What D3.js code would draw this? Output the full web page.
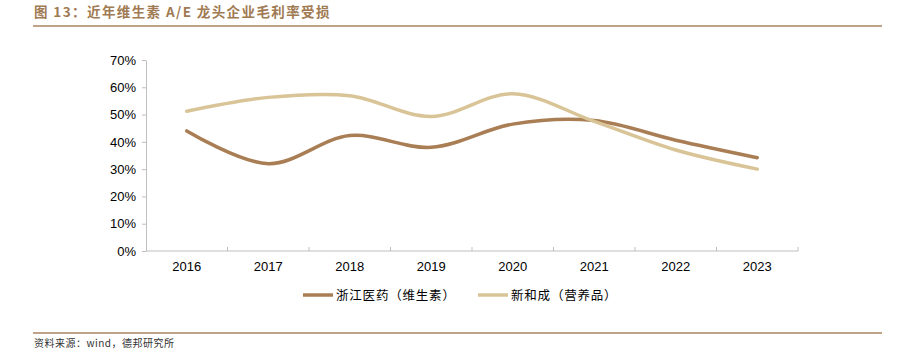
<!DOCTYPE html>
<html>
<head>
<meta charset="utf-8">
<script src="https://cdn.jsdelivr.net/npm/d3@7"></script>
<style>
  body { margin: 0; background: #fff; }
  text { font-family: "Liberation Sans", Arial, "Noto Sans CJK SC", sans-serif; }
  .cjk { font-family: "Noto Sans CJK SC", sans-serif; }
</style>
</head>
<body>
<div id="chart"></div>
<script>
// data
const years = ["2016", "2017", "2018", "2019", "2020", "2021", "2022", "2023"];
const zjyy = [44.0, 32.0, 42.3, 38.0, 46.5, 47.8, 40.6, 34.2];   // 浙江医药（维生素）
const xhc  = [51.2, 56.3, 56.9, 49.3, 57.6, 47.5, 37.0, 30.0];   // 新和成（营养品）
const yTicks = [0, 10, 20, 30, 40, 50, 60, 70];

const series = [
    {name: "浙江医药（维生素）", values: zjyy, color: "#A97E55"},
    {name: "新和成（营养品）", values: xhc, color: "#D9C497"}
];

const width = 902, height = 352;
const margin = {top: 60, right: 104, bottom: 101, left: 146};

const svg = d3.select("#chart").append("svg")
    .attr("width", width)
    .attr("height", height);

// title + rules
svg.append("text")
    .attr("class", "cjk")
    .attr("x", 34)
    .attr("y", 17)
    .attr("fill", "#A07A52")
    .attr("font-size", 13.5)
    .attr("font-weight", "bold")
    .attr("letter-spacing", 1.4)
    .text("图 13：近年维生素 A/E 龙头企业毛利率受损");

svg.append("line")
    .attr("x1", 33).attr("x2", 882)
    .attr("y1", 26).attr("y2", 26)
    .attr("stroke", "#A88560").attr("stroke-width", 1.5);

svg.append("line")
    .attr("x1", 33).attr("x2", 882)
    .attr("y1", 333).attr("y2", 333)
    .attr("stroke", "#A88560").attr("stroke-width", 1.5);

svg.append("text")
    .attr("class", "cjk")
    .attr("x", 34)
    .attr("y", 347)
    .attr("fill", "#333")
    .attr("font-size", 10)
    .attr("letter-spacing", 0.5)
    .text("资料来源：wind，德邦研究所");

const x = d3.scaleBand()
    .domain(years)
    .range([margin.left, width - margin.right]);

const y = d3.scaleLinear()
    .domain([0, 70])
    .range([height - margin.bottom, margin.top]);

// y axis
const yAxis = svg.append("g")
    .attr("transform", `translate(${margin.left},0)`)
    .call(d3.axisLeft(y).tickValues(yTicks).tickFormat(d => d + "%").tickSize(4).tickSizeOuter(0));
yAxis.select(".domain").attr("stroke", "#bfbfbf");
yAxis.selectAll(".tick line").attr("stroke", "#bfbfbf");
yAxis.selectAll(".tick text")
    .attr("font-size", 13)
    .attr("fill", "#000")
    .attr("x", -10)
    .attr("font-family", "Liberation Sans, Arial, sans-serif");

// x axis: ticks at band boundaries pointing up
const xg = svg.append("g")
    .attr("transform", `translate(0,${height - margin.bottom})`);
xg.append("line")
    .attr("x1", margin.left).attr("x2", width - margin.right)
    .attr("stroke", "#bfbfbf");
const bounds = years.map(d => x(d)).concat([x(years[years.length - 1]) + x.bandwidth()]);
xg.selectAll(".tk")
    .data(bounds.slice(1))
    .join("line")
    .attr("x1", d => d).attr("x2", d => d)
    .attr("y1", 0).attr("y2", -4)
    .attr("stroke", "#bfbfbf");
xg.selectAll(".lbl")
    .data(years)
    .join("text")
    .attr("x", d => x(d) + x.bandwidth() / 2)
    .attr("y", 20)
    .attr("text-anchor", "middle")
    .attr("font-size", 13)
    .attr("fill", "#000")
    .text(d => d);

// lines
const line = d3.line()
    .x((d, i) => x(years[i]) + x.bandwidth() / 2)
    .y(d => y(d))
    .curve(d3.curveCatmullRom.alpha(0.5));

svg.append("g")
    .selectAll("path")
    .data(series)
    .join("path")
    .attr("d", d => line(d.values))
    .attr("fill", "none")
    .attr("stroke", d => d.color)
    .attr("stroke-width", 3.5)
    .attr("stroke-linecap", "round");

// legend
const legendX = [303, 478];
const leg = svg.append("g")
    .selectAll("g")
    .data(series)
    .join("g")
    .attr("transform", (d, i) => `translate(${legendX[i]},295)`);
leg.append("line")
    .attr("x1", 0).attr("x2", 30)
    .attr("stroke", d => d.color)
    .attr("stroke-width", 3.5);
leg.append("text")
    .attr("class", "cjk")
    .attr("x", 33)
    .attr("y", 4.5)
    .attr("font-size", 12.5)
    .attr("letter-spacing", 0.8)
    .attr("fill", "#000")
    .text(d => d.name);
</script>
</body>
</html>
